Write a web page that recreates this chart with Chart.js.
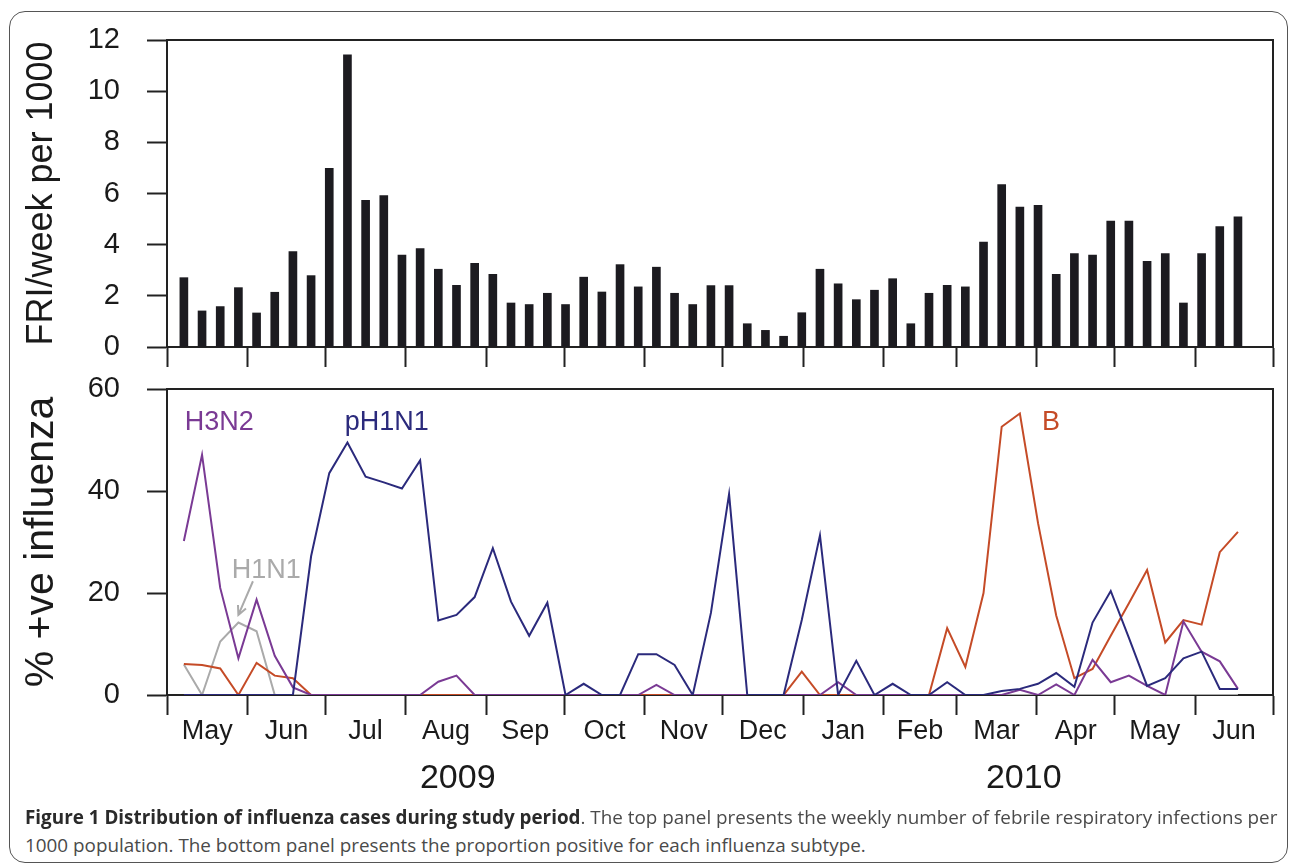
<!DOCTYPE html>
<html>
<head>
<meta charset="utf-8">
<script src="https://cdn.jsdelivr.net/npm/chart.js@4.4.0/dist/chart.umd.min.js"></script>
<style>
  html, body { margin: 0; padding: 0; background: #fff; }
  body { width: 1290px; height: 864px; position: relative; overflow: hidden; }
  #frame { position: absolute; left: 9px; top: 11px; width: 1279px; height: 852px;
           border: 1.5px solid #555; border-radius: 16px; box-sizing: border-box; }
  #top { position: absolute; left: 0; top: 0; }
  #bottom { position: absolute; left: 0; top: 349px; }
  .caption { position: absolute; left: 25px; font-family: "Open Sans", sans-serif; font-size: 19px;
             line-height: 26px; color: #4a4a4a; white-space: nowrap; transform-origin: left top; }
  .caption b { color: #2a2a2a; }
</style>
</head>
<body>
<div id="frame"></div>
<canvas id="top" width="1290" height="387"></canvas>
<canvas id="bottom" width="1290" height="451"></canvas>
<div class="caption" id="cap1" style="top:804px"><b>Figure 1 Distribution of influenza cases during study period</b>. The top panel presents the weekly number of febrile respiratory infections per</div>
<div class="caption" id="cap2" style="top:832px">1000 population. The bottom panel presents the proportion positive for each influenza subtype.</div>

<script>
// weekly series, first week starts Monday 4 May 2009
const weekStart = '2009-05-04';

// FRI per 1000 per week (top panel)
const friRate = [2.71, 1.41, 1.58, 2.32, 1.33, 2.14, 3.73, 2.79, 6.98, 11.42,
                 5.73, 5.92, 3.59, 3.85, 3.04, 2.41, 3.27, 2.84, 1.72, 1.66,
                 2.10, 1.66, 2.73, 2.15, 3.22, 2.35, 3.12, 2.10, 1.66, 2.40,
                 2.40, 0.91, 0.65, 0.42, 1.34, 3.04, 2.47, 1.85, 2.22, 2.67,
                 0.91, 2.10, 2.41, 2.35, 4.10, 6.35, 5.47, 5.54, 2.84, 3.65,
                 3.59, 4.92, 4.92, 3.35, 3.65, 1.72, 3.65, 4.71, 5.09];

// % positive by subtype (bottom panel)
const h3n2 = [30.2, 47.1, 21.0, 7.2, 18.7, 7.7, 1.5, 0, 0, 0,
              0, 0, 0, 0, 2.6, 3.8, 0, 0, 0, 0,
              0, 0, 0, 0, 0, 0, 2.0, 0, 0, 0,
              0, 0, 0, 0, 0, 0, 2.5, 0, 0, 0,
              0, 0, 0, 0, 0, 0, 1.0, 0, 2.1, 0,
              6.9, 2.5, 3.8, 1.8, 0, 14.4, 8.5, 6.6, 1.2];
const ph1n1 = [0, 0, 0, 0, 0, 0, 0, 27.2, 43.5, 49.5,
               42.8, 41.7, 40.5, 46.0, 14.6, 15.7, 19.2, 28.8, 18.3, 11.6,
               18.1, 0, 2.2, 0, 0, 8.0, 8.0, 5.9, 0, 16.1,
               39.4, 0, 0, 0, 14.7, 31.3, 0, 6.7, 0, 2.2,
               0, 0, 2.5, 0, 0, 0.8, 1.2, 2.2, 4.3, 1.6,
               14.2, 20.4, 11.2, 1.8, 3.3, 7.2, 8.5, 1.2, 1.2];
const h1n1 = [6.0, 0, 10.5, 14.2, 12.5, 0, 0, 0, 0, 0,
              0, 0, 0, 0, 0, 0, 0, 0, 0, 0,
              0, 0, 0, 0, 0, 0, 0, 0, 0, 0,
              0, 0, 0, 0, 0, 0, 0, 0, 0, 0,
              0, 0, 0, 0, 0, 0, 0, 0, 0, 0,
              0, 0, 0, 0, 0, 0, 0, 0, 0];
const fluB = [6.1, 5.9, 5.2, 0, 6.3, 3.8, 3.3, 0, 0, 0,
              0, 0, 0, 0, 0, 0, 0, 0, 0, 0,
              0, 0, 0, 0, 0, 0, 0, 0, 0, 0,
              0, 0, 0, 0, 4.6, 0, 0, 0, 0, 0,
              0, 0, 13.1, 5.5, 20.0, 52.6, 55.2, 33.7, 15.6, 3.3,
              5.1, 11.6, 18.0, 24.5, 10.3, 14.7, 13.8, 28.0, 32.0];

// axis labels
const monthStarts = ['2009-05-01', '2009-06-01', '2009-07-01', '2009-08-01', '2009-09-01',
                     '2009-10-01', '2009-11-01', '2009-12-01', '2010-01-01', '2010-02-01',
                     '2010-03-01', '2010-04-01', '2010-05-01', '2010-06-01', '2010-07-01'];
const monthNames = ['May', 'Jun', 'Jul', 'Aug', 'Sep', 'Oct', 'Nov', 'Dec',
                    'Jan', 'Feb', 'Mar', 'Apr', 'May', 'Jun'];
const yearNames = ['2009', '2010'];
const yearCentres = ['2009-08-21', '2010-03-27'];

const PURPLE = '#7a3a94', NAVY = '#2b2a7c', ORANGE = '#c54b27', GREY = '#aaaaaa', INK = '#1a1a1a';

Chart.defaults.font.family = '"Liberation Sans", Arial, sans-serif';
Chart.defaults.color = INK;

const origin = Date.parse('2009-05-01');
function dayOf(s) { return (Date.parse(s) - origin) / 86400000; }
const xMax = dayOf(monthStarts[monthStarts.length - 1]);
const weekMid = friRate.map((v, i) => dayOf(weekStart) + 3.5 + 7 * i);
function pts(arr) { return arr.map((v, i) => ({ x: weekMid[i], y: v })); }

const tickGrid = { offset: false, drawOnChartArea: false, drawTicks: true, tickLength: 20, tickWidth: 2, tickColor: '#222' };
const axisLine = { color: '#222', width: 2 };

function monthAxis() {
  return {
    type: 'linear', min: 0, max: xMax, offset: false, z: 1, weight: 0,
    afterBuildTicks: s => { s.ticks = monthStarts.map(d => ({ value: dayOf(d) })); },
    afterFit: s => { s.height = 20; },
    ticks: { display: false },
    grid: tickGrid,
    border: axisLine
  };
}

function yAxis(max, step, title, titleSize) {
  return {
    min: 0, max: max, z: 1,
    afterFit: s => { s.width = 167; },
    ticks: { stepSize: step, padding: 27, color: INK, font: { size: 29, lineHeight: 0.8 } },
    grid: tickGrid,
    border: axisLine,
    title: { display: true, text: title, color: INK, font: { size: titleSize },
             padding: { top: 42 - titleSize * 0.6, bottom: 0 } }
  };
}

// closes the box on the top and right
const boxPlugin = {
  id: 'box',
  afterDraw(chart) {
    const { ctx, chartArea: a } = chart;
    ctx.save();
    ctx.strokeStyle = '#222';
    ctx.lineWidth = 2;
    ctx.beginPath();
    ctx.moveTo(a.left, a.top);
    ctx.lineTo(a.right, a.top);
    ctx.lineTo(a.right, a.bottom);
    ctx.stroke();
    ctx.restore();
  }
};

// subtype names written inside the lower panel
const notes = [
  { text: 'H3N2', day: 6.8, val: 52, color: PURPLE },
  { text: 'pH1N1', day: 68.5, val: 52, color: NAVY },
  { text: 'H1N1', day: 24.9, val: 23, color: GREY },
  { text: 'B', day: 337, val: 52, color: ORANGE }
];
const arrow = { from: [33.1, 22.3], to: [27.5, 15.7], color: GREY };

const notesPlugin = {
  id: 'notes',
  afterDatasetsDraw(chart) {
    const { ctx, scales: { x, y } } = chart;
    ctx.save();
    ctx.font = '27px "Liberation Sans", Arial, sans-serif';
    ctx.textBaseline = 'alphabetic';
    notes.forEach(n => {
      ctx.fillStyle = n.color;
      ctx.fillText(n.text, x.getPixelForValue(n.day), y.getPixelForValue(n.val));
    });
    const x0 = x.getPixelForValue(arrow.from[0]), y0 = y.getPixelForValue(arrow.from[1]);
    const x1 = x.getPixelForValue(arrow.to[0]), y1 = y.getPixelForValue(arrow.to[1]);
    const ang = Math.atan2(y1 - y0, x1 - x0);
    ctx.strokeStyle = arrow.color;
    ctx.lineWidth = 2;
    ctx.beginPath();
    ctx.moveTo(x0, y0);
    ctx.lineTo(x1, y1);
    ctx.moveTo(x1 - 10 * Math.cos(ang - 0.45), y1 - 10 * Math.sin(ang - 0.45));
    ctx.lineTo(x1, y1);
    ctx.lineTo(x1 - 10 * Math.cos(ang + 0.45), y1 - 10 * Math.sin(ang + 0.45));
    ctx.stroke();
    ctx.restore();
  }
};

// TOP PANEL
new Chart(document.getElementById('top'), {
  type: 'bar',
  data: { datasets: [{ data: pts(friRate), backgroundColor: '#1c1b20', barThickness: 8 }] },
  options: {
    responsive: false,
    animation: false,
    layout: { padding: { left: 0, right: 17, top: 40, bottom: 20 } },
    plugins: { legend: { display: false }, tooltip: { enabled: false } },
    scales: {
      x: monthAxis(),
      y: yAxis(12, 2, 'FRI/week per 1000', 36)
    }
  },
  plugins: [boxPlugin]
});

// BOTTOM PANEL
function line(arr, color) {
  return { data: pts(arr), borderColor: color, borderWidth: 2, pointRadius: 0, tension: 0, fill: false };
}

new Chart(document.getElementById('bottom'), {
  type: 'line',
  data: {
    datasets: [
      line(ph1n1, NAVY),
      line(h3n2, PURPLE),
      line(fluB, ORANGE),
      line(h1n1, GREY)
    ]
  },
  options: {
    responsive: false,
    animation: false,
    layout: { padding: { left: 0, right: 17, top: 40, bottom: 0 } },
    plugins: { legend: { display: false }, tooltip: { enabled: false } },
    scales: {
      x: monthAxis(),
      xm: {
        type: 'linear', position: 'bottom', min: 0, max: xMax, offset: false, weight: 1,
        afterBuildTicks: s => {
          s.ticks = monthNames.map((m, i) => ({ value: (dayOf(monthStarts[i]) + dayOf(monthStarts[i + 1])) / 2 }));
        },
        afterFit: s => { s.height = 35; },
        ticks: { autoSkip: false, maxRotation: 0, padding: 0, color: INK, font: { size: 27 },
                 callback: (v, i) => monthNames[i] },
        grid: { display: false, drawTicks: false },
        border: { display: false }
      },
      xy: {
        type: 'linear', position: 'bottom', min: 0, max: xMax, offset: false, weight: 2,
        afterBuildTicks: s => { s.ticks = yearCentres.map(d => ({ value: dayOf(d) })); },
        afterFit: s => { s.height = 50; },
        ticks: { autoSkip: false, maxRotation: 0, padding: 8, color: INK, font: { size: 34 },
                 callback: (v, i) => yearNames[i] },
        grid: { display: false, drawTicks: false },
        border: { display: false }
      },
      y: yAxis(60, 20, '% +ve influenza', 41)
    }
  },
  plugins: [boxPlugin, notesPlugin]
});

// squeeze the caption lines to the frame width
const c1 = document.getElementById('cap1'), c2 = document.getElementById('cap2');
const k = 1252 / c1.offsetWidth;
c1.style.transform = 'scaleX(' + k + ')';
c2.style.transform = 'scaleX(' + k + ')';
</script>
</body>
</html>
